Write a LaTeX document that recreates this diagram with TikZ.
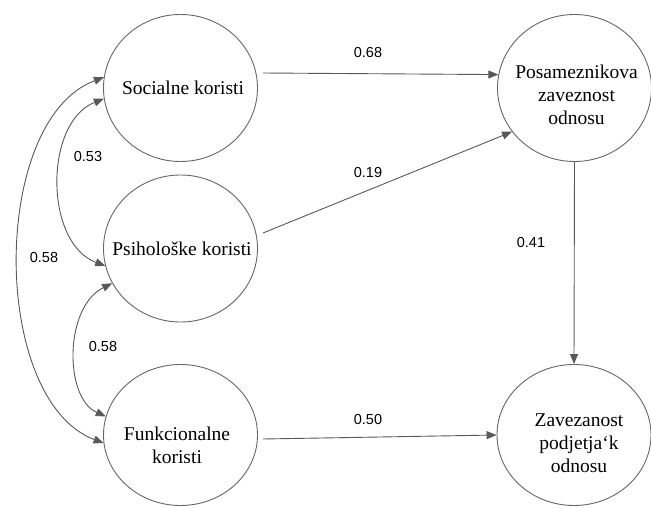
\documentclass[tikz,border=0pt]{standalone}
\usepackage{fontspec}
\setmainfont{Liberation Serif}
\newfontfamily\numfont{Liberation Sans}
\usetikzlibrary{shapes.geometric,arrows.meta}
\begin{document}
\begin{tikzpicture}[x=1pt,y=-1pt,
  latent/.style={ellipse,draw=black!60,line width=0.9pt,inner sep=0pt,minimum width=154pt,minimum height=#1},
  latent/.default=147pt,
  ltext/.style={align=center,inner sep=0pt,font=\fontsize{19.5}{23}\selectfont},
  tip/.style={Triangle[length=10pt,width=8pt]},
  pathar/.style={draw=black!65,line width=0.9pt,-{Triangle[length=10pt,width=8pt]}},
  covar/.style={draw=black!65,line width=0.9pt,{Triangle[length=10pt,width=8pt]}-{Triangle[length=10pt,width=8pt]}},
  coef/.style={inner sep=0pt,font=\numfont\fontsize{14.5}{16}\selectfont}]
\useasboundingbox (0,0) rectangle (651,508);
% latent variables
\node[latent] (soc) at (180.5,88) {};
\node[ltext] (socT) at (183,88) {Socialne koristi};
\node[latent] (psi) at (180.5,248.5) {};
\node[ltext] (psiT) at (182,249) {Psihološke koristi};
\node[latent=141pt] (fun) at (180.5,435) {};
\node[ltext] (funT) at (177,445) {Funkcionalne\\koristi};
\node[latent] (pos) at (574.5,88) {};
\node[ltext] (posT) at (576.5,95) {Posameznikova\\zaveznost\\odnosu};
\node[latent=141pt] (zav) at (574,435) {};
\node[ltext] (zavT) at (579,443) {Zavezanost\\podjetja`k\\odnosu};
% structural paths
\coordinate (s1) at (263,73);
\coordinate (p1) at (263,233);
\coordinate (f1) at (263,439);
\draw[pathar] (s1) -- (pos.170);
\draw[pathar] (p1) -- (pos.215);
\draw[pathar] (pos.south) -- (zav.north);
\draw[pathar] (f1) -- (zav.west);
% covariances
\draw[covar] (soc.172) .. controls (-10,120) and (-10,400) .. (fun.186);
\draw[covar] (soc.188) .. controls (44,122) and (44,243) .. (psi.193);
\draw[covar] (psi.207) .. controls (64,307) and (64,398) .. (fun.166);
% coefficients
\node[coef] (c68) at (368,53) {0.68};
\node[coef] (c19) at (368,173) {0.19};
\node[coef] (c41) at (531,243) {0.41};
\node[coef] (c50) at (368,420) {0.50};
\node[coef] (c53) at (88,157) {0.53};
\node[coef] (c58a) at (44,258) {0.58};
\node[coef] (c58b) at (103,347) {0.58};
\end{tikzpicture}
\end{document}
